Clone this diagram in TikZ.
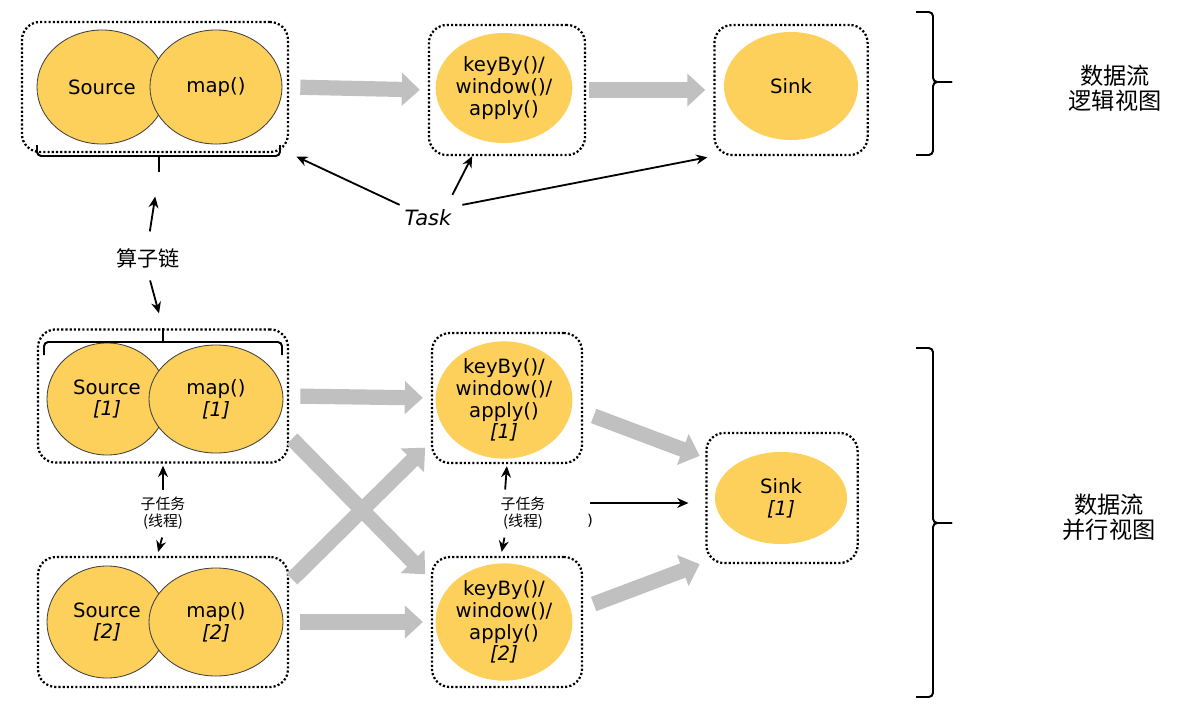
\documentclass[tikz,border=0pt]{standalone}
\usepackage{fontspec}
\setmainfont{DejaVu Sans}
\newfontfamily\zh{Noto Sans CJK SC}
\usetikzlibrary{shapes.geometric}
\usetikzlibrary{arrows.meta, positioning, calc}
\usepackage{xcolor}
\definecolor{opYellow}{RGB}{253, 208, 92}
\definecolor{flowGrey}{RGB}{192, 192, 192}
\tikzset{
    op/.style={ellipse, fill=opYellow, inner sep=0pt, align=center, font=\fontsize{14}{15.5}\selectfont},
    chained/.style={op, draw=black!75, line width=0.6pt},
    group/.style={draw, rounded corners=0.45cm, line width=1.6pt, dash pattern=on 1.5pt off 1.5pt, minimum height=3.25cm},
    flow/.style={draw=flowGrey, line width=0.38cm, -{Triangle[length=0.45cm, width=0.8cm]}, shorten <=0.28cm, shorten >=0.2cm},
    note/.style={-{Stealth[length=8pt, width=7pt]}, line width=1.3pt},
    bracket/.style={line width=1.4pt, rounded corners=3pt}
}

\begin{document}
\begin{tikzpicture}[x=0.025cm, y=-0.025cm]
    \useasboundingbox (0,0) rectangle (1184,711);

    % logical view: operator boxes
    \node[group, minimum width=6.65cm] (g1) at (155,87) {};
    \node[group, minimum width=3.9cm] (g2) at (507,90) {};
    \node[group, minimum width=3.83cm] (g3) at (791,90) {};

    \node[chained, minimum width=3.25cm, minimum height=2.85cm] (src) at (102,87) {Source};
    \node[chained, minimum width=3.3cm, minimum height=2.85cm] (mapA) at (216,87) {map()};
    \node[op, minimum width=3.3cm, minimum height=2.75cm] (keyA) at (504,88) {keyBy()/\\window()/\\apply()};
    \node[op, minimum width=3.35cm, minimum height=2.7cm] (sinkA) at (791,86) {Sink};

    \draw[flow] (g1.east) -- (g2.west);
    \draw[flow, shorten <=0.08cm] (g2.east) -- (g3.west);

    % chain bracket under the first box
    \draw[bracket] (37,145) -- (37,156) -- (280,156) -- (280,145);
    \draw[line width=1.4pt] (159,156) -- (159,172);
    \coordinate (chainTip) at (159,172);

    % task label
    \node[font=\fontsize{15}{17}\selectfont\itshape] (task) at (428,218) {Task};
    \draw[note, shorten >=0.2cm] (task.north west) -- (g1.south east);
    \draw[note] ([xshift=-0.1cm, yshift=0.25cm]task.north east) -- ($(g2.south west)!0.28!(g2.south east)$);
    \draw[note, shorten >=0.15cm] ([xshift=0.15cm]task.north east) -- (g3.south west);

    % operator chain label
    \node[font=\fontsize{15}{17}\selectfont\zh] (chain) at (148,258) {算子链};
    \draw[note, shorten <=0.3cm, shorten >=0.62cm] (chain.north) -- (chainTip);
    \coordinate (chainBot) at (163,328);
    \draw[note, shorten <=0.2cm, shorten >=0.38cm] (chain.south) -- (chainBot);

    % parallel view: operator boxes
    \node[group, minimum width=6.25cm, minimum height=3.33cm] (g4) at (163,396) {};
    \node[group, minimum width=6.25cm] (g5) at (163,622) {};
    \node[group, minimum width=3.75cm] (g6) at (507,398) {};
    \node[group, minimum width=3.75cm] (g7) at (507,622) {};
    \node[group, minimum width=3.78cm] (g8) at (782,498) {};

    \node[chained, minimum width=3.0cm, minimum height=2.8cm] (srcB) at (107,399) {Source\\{\itshape[1]}};
    \node[chained, minimum width=3.35cm, minimum height=2.7cm] (mapB) at (216,399) {map()\\{\itshape[1]}};
    \node[chained, minimum width=3.0cm, minimum height=2.8cm] (srcC) at (107,622) {Source\\{\itshape[2]}};
    \node[chained, minimum width=3.35cm, minimum height=2.7cm] (mapC) at (216,622) {map()\\{\itshape[2]}};
    \node[op, minimum width=3.3cm, minimum height=2.65cm] (keyB) at (504,400) {keyBy()/\\window()/\\apply()\\{\itshape[1]}};
    \node[op, minimum width=3.3cm, minimum height=2.65cm] (keyC) at (504,622) {keyBy()/\\window()/\\apply()\\{\itshape[2]}};
    \node[op, minimum width=3.3cm, minimum height=2.3cm] (sinkB) at (781,498) {Sink\\{\itshape[1]}};

    % chain bracket over the first subtask
    \draw[bracket] (44,355) -- (44,342) -- (282,342) -- (282,355);
    \draw[line width=1.4pt] (163,342) -- (chainBot);

    % data flow between subtasks
    \draw[flow] (g4.east) -- (g6.west);
    \draw[flow] (g5.east) -- (g7.west);
    \draw[flow, shorten <=0.1cm] ([yshift=-1cm]g4.east) -- ([yshift=1.05cm]g7.west);
    \draw[flow, shorten <=0.1cm] ([yshift=1cm]g5.east) -- ([yshift=-1.1cm]g6.west);
    \draw[flow, shorten >=0.15cm] ([yshift=-0.35cm]g6.east) -- ([yshift=1.0cm]g8.west);
    \draw[flow, shorten >=0.15cm] ([yshift=0.35cm]g7.east) -- ([yshift=-1.6cm]g8.west);

    % subtask labels
    \node[font=\fontsize{10.6}{12.5}\selectfont\zh, align=center] (subL) at (163,513) {子任务\\(线程)};
    \draw[note, shorten <=0.05cm, shorten >=0.05cm] (subL.north) -- (g4.south);
    \draw[note, shorten <=0.08cm, shorten >=0.1cm] (subL.south) -- ([xshift=-0.15cm]g5.north);
    \node[font=\fontsize{10.6}{12.5}\selectfont\zh, align=center] (subM) at (523,513) {子任务\\(线程)};
    \draw[note, shorten <=0.05cm, shorten >=0.05cm] ([xshift=-0.45cm]subM.north) -- (g6.south);
    \draw[note, shorten <=0.08cm, shorten >=0.1cm] ([xshift=-0.45cm]subM.south) -- ([xshift=-0.15cm]g7.north);

    \coordinate (loose) at (590,503);
    \draw[note, shorten >=0.42cm] (loose) -- (loose -| g8.west);
    \node[font=\fontsize{10.6}{12.5}\selectfont] (stray) at (590,521) {)};

    % view braces
    \draw[bracket] (916,12) -- (933,12) -- (933,82) -- (952,82);
    \draw[bracket] (916,155) -- (933,155) -- (933,82) -- (952,82);
    \draw[bracket] (916,348) -- (933,348) -- (933,523) -- (952,523);
    \draw[bracket] (916,697) -- (933,697) -- (933,523) -- (952,523);

    \node[font=\fontsize{16.5}{18}\selectfont\zh, align=center] (logical) at (1115,88) {数据流\\逻辑视图};
    \node[font=\fontsize{16.5}{18}\selectfont\zh, align=center] (parallel) at (1109,517) {数据流\\并行视图};
\end{tikzpicture}
\end{document}
